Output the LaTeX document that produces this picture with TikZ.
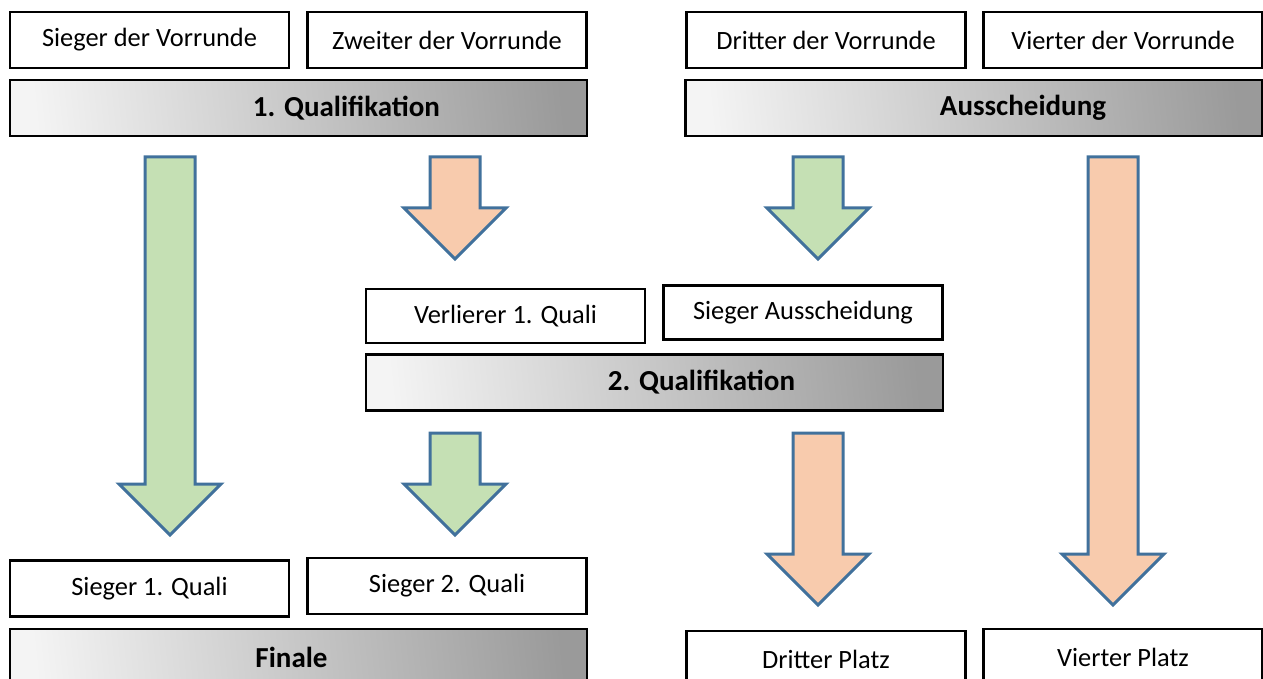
\documentclass[tikz,border=0pt]{standalone}
\usepackage{fontspec}
\setmainfont{Carlito}
\usepackage{tikz}
\usetikzlibrary{positioning, calc}
\usetikzlibrary{shapes, shadings}

\definecolor{greenfill}{HTML}{C5E0B4}
\definecolor{orangefill}{HTML}{F8CBAD}
\definecolor{arrowline}{HTML}{41719C}
\definecolor{barlight}{HTML}{F4F4F4}
\definecolor{barmid}{HTML}{DADADA}
\definecolor{bardark}{HTML}{9A9A9A}

\tikzset{
	teambox/.style={draw=black, line width=1.3pt, fill=white, minimum width=139.5pt, minimum height=28pt, inner sep=0pt, font=\fontsize{13.2}{16}\selectfont},
	roundbar/.style={draw=black, line width=1.4pt, left color=barlight, middle color=barmid, right color=bardark, shading angle=96, minimum width=288.5pt, minimum height=28pt, inner sep=0pt, font=\fontsize{14.5}{17}\selectfont\bfseries},
	winarrow/.style={fill=greenfill, draw=arrowline, line width=1.5pt, line join=miter},
	losearrow/.style={fill=orangefill, draw=arrowline, line width=1.5pt, line join=miter}
}

% block arrow from top of shaft (#2) to tip (#3)
\newcommand{\blockarrow}[3]{%
	\draw[#1] ($(#2)+(-25,0)$) -- ($(#2)+(25,0)$) -- ($(#3)+(25,-51)$) -- ($(#3)+(51,-51)$)
	-- (#3) -- ($(#3)+(-51,-51)$) -- ($(#3)+(-25,-51)$) -- cycle;}

\begin{document}
\begin{tikzpicture}[x=0.5pt, y=-0.5pt]
			\useasboundingbox (0,0) rectangle (1263,679);
			%Vorrunde
			\node[teambox] (v1) at (149.5,40) {\raisebox{-1pt}{Sieger der Vorrunde}};
			\node[teambox] (v2) at (447,40) {Zweiter der Vorrunde};
			\node[teambox] (v3) at (826,40) {Dritter der Vorrunde};
			\node[teambox] (v4) at (1123,40) {Vierter der Vorrunde};
			\node[roundbar] (quali1) at (298.5,108) {\raisebox{-2pt}{\hspace*{48pt}1. Qualifikation}};
			\node[roundbar] (aussch) at (974,108) {\raisebox{-2pt}{\hspace*{49pt}Ausscheidung}};
			% 2. Qualifikation
			\node[teambox, minimum height=27pt] (verl) at (505.5,316) {Verlierer 1. Quali};
			\node[teambox, minimum height=27pt] (sausch) at (803,312.5) {Sieger Ausscheidung};
			\node[roundbar] (quali2) at (654.5,382.5) {\raisebox{-2pt}{\hspace*{47pt}2. Qualifikation}};
			% Finale and places
			\node[teambox] (sq1) at (149.5,588.5) {Sieger 1. Quali};
			\node[teambox] (sq2) at (447,586) {Sieger 2. Quali};
			\node[roundbar] (finale) at (298.5,657) {\raisebox{-2pt}{\hspace*{-7pt}Finale}};
			\node[teambox] (platz3) at (826,659) {Dritter Platz};
			\node[teambox] (platz4) at (1123,657) {Vierter Platz};
			% Arrows
			\coordinate (w1a) at (170,157);
			\coordinate (w1b) at (170,535);
			\coordinate (l1a) at (455,157);
			\coordinate (l1b) at (455,259);
			\coordinate (w2a) at (818,157);
			\coordinate (w2b) at (818,259);
			\coordinate (l2a) at (1113,157);
			\coordinate (l2b) at (1113,605);
			\coordinate (w3a) at (455,433);
			\coordinate (w3b) at (455,535);
			\coordinate (l3a) at (818,433);
			\coordinate (l3b) at (818,605);
			\blockarrow{winarrow}{w1a}{w1b}
			\blockarrow{losearrow}{l1a}{l1b}
			\blockarrow{winarrow}{w2a}{w2b}
			\blockarrow{losearrow}{l2a}{l2b}
			\blockarrow{winarrow}{w3a}{w3b}
			\blockarrow{losearrow}{l3a}{l3b}
\end{tikzpicture}
\end{document}
